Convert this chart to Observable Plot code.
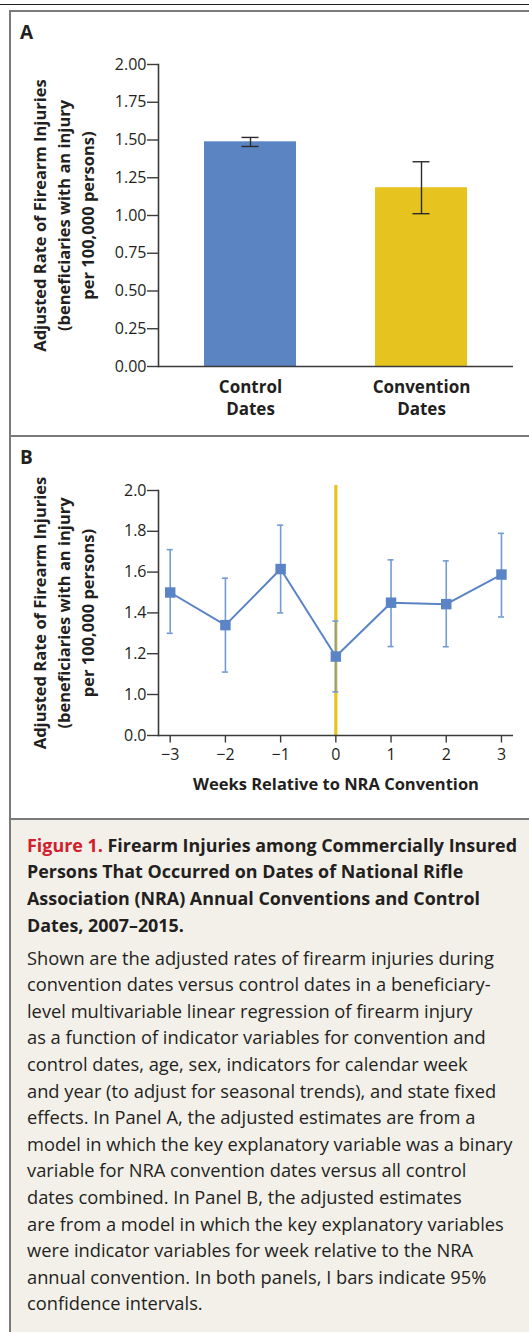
<!DOCTYPE html>
<html>
<head>
<meta charset="utf-8">
<script src="https://cdn.jsdelivr.net/npm/d3@7"></script>
<script src="https://cdn.jsdelivr.net/npm/@observablehq/plot@0.6"></script>
<style>
  html, body { margin: 0; padding: 0; background: #ffffff; }
  #page { position: relative; width: 529px; height: 1332px; overflow: hidden; font-family: "Open Sans", "Noto Sans", sans-serif; color: #231f20; }
  .rule-top { position: absolute; left: 0; width: 529px; top: 3.5px; height: 1.5px; background: #222; }
  .box-top { position: absolute; left: 9px; width: 520px; top: 9.5px; height: 2px; background: #7a7a7a; }
  .box-left { position: absolute; left: 9px; width: 2px; top: 9.5px; bottom: 0; background: #7a7a7a; }
  .sep { position: absolute; left: 9px; width: 520px; height: 2px; background: #7a7a7a; }
  .panel-label { position: absolute; left: 20px; font-weight: 700; font-size: 19px; line-height: 1; }
  .plotwrap { position: absolute; left: 0; width: 529px; }
  #caption { position: absolute; left: 11px; top: 820px; width: 518px; bottom: 0; background: #f3f0ea; }
  .cap-title { position: absolute; left: 16px; top: 11.6px; font-weight: 700; font-size: 17.9px; line-height: 26.8px; white-space: nowrap; }
  .cap-title .fig { color: #d0202e; }
  .cap-body { position: absolute; left: 16px; top: 124.6px; font-size: 18.3px; line-height: 26.6px; white-space: nowrap; }
</style>
</head>
<body>
<div id="page">
  <div class="rule-top"></div>
  <div class="box-top"></div>
  <div class="box-left"></div>
  <div class="sep" style="top:435px"></div>
  <div class="sep" style="top:818px"></div>
  <div class="panel-label" style="top:23px">A</div>
  <div class="panel-label" style="top:448px">B</div>
  <div class="plotwrap" id="panelA" style="top:12px"></div>
  <div class="plotwrap" id="panelB" style="top:437px"></div>
  <div id="caption">
    <div class="cap-title"><span class="fig">Figure 1.</span> Firearm Injuries among Commercially Insured<br>Persons That Occurred on Dates of National Rifle<br>Association (NRA) Annual Conventions and Control<br>Dates, 2007–2015.</div>
    <div class="cap-body">Shown are the adjusted rates of firearm injuries during<br>convention dates versus control dates in a beneficiary-<br>level multivariable linear regression of firearm injury<br>as a function of indicator variables for convention and<br>control dates, age, sex, indicators for calendar week<br>and year (to adjust for seasonal trends), and state fixed<br>effects. In Panel A, the adjusted estimates are from a<br>model in which the key explanatory variable was a binary<br>variable for NRA convention dates versus all control<br>dates combined. In Panel B, the adjusted estimates<br>are from a model in which the key explanatory variables<br>were indicator variables for week relative to the NRA<br>annual convention. In both panels, I bars indicate 95%<br>confidence intervals.</div>
  </div>
</div>
<script>
// ---------- Data: Panel A ----------
const categories = ["Control Dates", "Convention Dates"];
const categoryLabels = ["Control\nDates", "Convention\nDates"];
const barRates = [1.488, 1.184];
const barLow = [1.457, 1.012];
const barHigh = [1.517, 1.356];
const barColors = ["#5b84c3", "#e6c31e"];
const yTicksA = [0, 0.25, 0.5, 0.75, 1, 1.25, 1.5, 1.75, 2];

// ---------- Data: Panel B ----------
const weeks = [-3, -2, -1, 0, 1, 2, 3];
const weekRates = [1.50, 1.34, 1.615, 1.186, 1.45, 1.443, 1.588];
const weekLow = [1.30, 1.11, 1.40, 1.013, 1.235, 1.234, 1.38];
const weekHigh = [1.71, 1.57, 1.83, 1.36, 1.66, 1.655, 1.79];
const conventionWeek = [0];
const yTicksB = [0, 1, 1.2, 1.4, 1.6, 1.8, 2];
const yTickLabelsB = ["0.0", "1.0", "1.2", "1.4", "1.6", "1.8", "2.0"];
const weekTicks = [-3, -2, -1, 0, 1, 2, 3];

const yTitleLines = "Adjusted Rate of Firearm Injuries\n(beneficiaries with an injury\nper 100,000 persons)";
const xTitleB = "Weeks Relative to NRA Convention";

const ink = "#231f20";
const axisInk = "#3a3a3a";
const font = "'Open Sans', 'Noto Sans', sans-serif";

// ---------- Panel A ----------
const tableA = categories.map((c, i) => ({cat: c, rate: barRates[i], lo: barLow[i], hi: barHigh[i], color: barColors[i]}));
const W = 529;
const hA = 423, mTopA = 52, mBotA = 69, mLeft = 158, mRight = 16;

const yTitle = () => Plot.text([yTitleLines], {frameAnchor: "left", text: d => d, rotate: -90, textAnchor: "middle", lineAnchor: "middle", dx: -96, fontWeight: "bold", fontSize: 16.5, lineHeight: 1.45, fill: ink});

const plotA = Plot.plot({
  width: W, height: hA,
  marginTop: mTopA, marginBottom: mBotA, marginLeft: mLeft, marginRight: mRight,
  style: {fontFamily: font, fontSize: "16px", color: ink, background: "transparent", overflow: "visible"},
  x: {domain: categories, paddingInner: 0.464, paddingOuter: 0.269, align: 0.5},
  y: {domain: [0, 2]},
  marks: [
    Plot.barY(tableA, {x: "cat", y: "rate", fill: d => d.color}),
    Plot.ruleX(tableA, {x: "cat", y1: "lo", y2: "hi", stroke: "#2a2a2a", strokeWidth: 1.4}),
    Plot.tickY(tableA, {x: "cat", y: "lo", stroke: "#2a2a2a", strokeWidth: 1.4, insetLeft: 37.5, insetRight: 37.5}),
    Plot.tickY(tableA, {x: "cat", y: "hi", stroke: "#2a2a2a", strokeWidth: 1.4, insetLeft: 37.5, insetRight: 37.5}),
    Plot.ruleY([0], {stroke: axisInk, strokeWidth: 1.6}),
    Plot.frame({anchor: "left", stroke: axisInk, strokeWidth: 1.6}),
    Plot.axisY({ticks: yTicksA, tickFormat: d => d.toFixed(2), tickSize: 11, tickPadding: 1, label: null, stroke: axisInk, strokeWidth: 1.4, fill: ink}),
    Plot.axisX({tickSize: 0, tickPadding: 11, tickFormat: d => categoryLabels[categories.indexOf(d)], label: null, fontWeight: "bold", fontSize: 17, lineHeight: 1.3, fill: ink}),
    yTitle()
  ]
});
document.getElementById("panelA").appendChild(plotA);

// ---------- Panel B ----------
const tableB = weeks.map((w, i) => ({week: w, rate: weekRates[i], lo: weekLow[i], hi: weekHigh[i]}));
const hB = 381, mTopB = 53, mBotB = 83;
const blue = "#5a84c6", blueLight = "#739bd4";

const plotB = Plot.plot({
  width: W, height: hB,
  marginTop: mTopB, marginBottom: mBotB, marginLeft: mLeft, marginRight: mRight,
  style: {fontFamily: font, fontSize: "16px", color: ink, background: "transparent", overflow: "visible"},
  x: {domain: [-3.212, 3.218]},
  y: {type: "linear", domain: [0, 1, 2], range: [hB - mBotB, hB - mBotB - 41, mTopB]},
  marks: [
    Plot.ruleX(conventionWeek, {stroke: "#e8c31c", strokeWidth: 3.2, insetTop: -5}),
    Plot.ruleX(tableB, {x: "week", y1: "lo", y2: "hi", stroke: blueLight, strokeWidth: 1.6}),
    Plot.ruleY(tableB, {y: "lo", x1: "week", x2: "week", insetLeft: -3, insetRight: -3, stroke: blueLight, strokeWidth: 1.6}),
    Plot.ruleY(tableB, {y: "hi", x1: "week", x2: "week", insetLeft: -3, insetRight: -3, stroke: blueLight, strokeWidth: 1.6}),
    Plot.line(tableB, {x: "week", y: "rate", stroke: blue, strokeWidth: 2}),
    Plot.dot(tableB, {x: "week", y: "rate", symbol: "square", fill: blue, r: 5.9}),
    Plot.ruleY([0], {stroke: axisInk, strokeWidth: 1.6}),
    Plot.frame({anchor: "left", stroke: axisInk, strokeWidth: 1.6}),
    Plot.axisY({ticks: yTicksB, tickFormat: d => yTickLabelsB[yTicksB.indexOf(d)], tickSize: 11, tickPadding: 1, label: null, stroke: axisInk, strokeWidth: 1.4, fill: ink}),
    Plot.axisX({ticks: weekTicks, tickFormat: d3.format("d"), tickSize: 7.5, tickPadding: 6, label: null, stroke: axisInk, strokeWidth: 1.4, fill: ink}),
    Plot.text([xTitleB], {frameAnchor: "bottom", text: d => d, dy: 54.5, fontWeight: "bold", fontSize: 16.5, fill: ink}),
    yTitle()
  ]
});
document.getElementById("panelB").appendChild(plotB);
</script>
</body>
</html>
